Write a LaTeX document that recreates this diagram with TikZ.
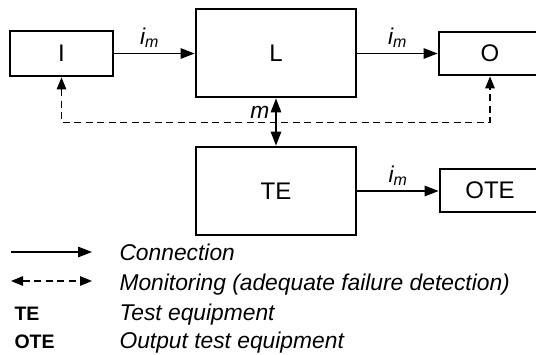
\documentclass[tikz,border=0pt]{standalone}
\usepackage{fontspec}
\setmainfont{Liberation Sans}
\usepackage{tikz}
\usetikzlibrary{arrows.meta,positioning,calc}

\tikzset{
  blk/.style={draw, line width=2.8pt, inner sep=0pt, font=\fontsize{24}{28}\selectfont},
  conn/.style={line width=1.4pt, -{Triangle[length=14pt,width=10.5pt]}},
  monit/.style={line width=1.4pt, dash pattern=on 7pt off 4.5pt,
    {Triangle[length=12pt,width=9.5pt]}-{Triangle[length=12pt,width=9.5pt]}},
  lbl/.style={font=\fontsize{22.8}{26}\selectfont\itshape},
  key/.style={font=\fontsize{19.5}{22}\selectfont\bfseries}
}
\newcommand{\imlabel}{\textit{i}\textsubscript{\textit{m}}}

\begin{document}
\begin{tikzpicture}[x=1pt,y=-1pt]
  \useasboundingbox (0,0) rectangle (536,354);
  % Blocks
  \node[blk, minimum width=103pt, minimum height=45pt] (i) at (61.5,53.5) {I};
  \node[blk, minimum width=160pt, minimum height=88pt] (l) at (276,53) {L};
  \node[blk, minimum width=102pt, minimum height=43pt] (o) at (490,53.5) {O};
  \node[blk, minimum width=160pt, minimum height=88pt] (te) at (276,191) {TE};
  \node[blk, minimum width=100pt, minimum height=43pt] (ote) at (490,190.5) {OTE};
  % Connections
  \draw[conn] (i.east) -- node[lbl, above, inner sep=5pt, xshift=-5pt]{\imlabel} (i.east -| l.west);
  \draw[conn] (l.east |- o.west) -- node[lbl, above, inner sep=5pt]{\imlabel} (o.west);
  \draw[conn] (te.east) -- node[lbl, above, inner sep=5pt]{\imlabel} (te.east -| ote.west);
  \draw[conn, {Triangle[length=14pt,width=10.5pt]}-{Triangle[length=14pt,width=10.5pt]}]
    (l.south) -- node[lbl, pos=0.3, left, inner sep=2pt, xshift=-4pt]{m} (te.north);
  % Monitoring
  \draw[monit] (i.south) -- ++(0,45) -| (o.south);
  % Legend
  \coordinate (c1) at (11,252);
  \coordinate (c2) at (92,252);
  \coordinate (m1) at (11,281);
  \coordinate (m2) at (92,281);
  \draw[conn] (c1) -- (c2);
  \draw[monit] (m1) -- (m2);
  \node[lbl, anchor=base west] (tc) at (116,260) {Connection};
  \node[lbl, anchor=base west] (tm) at (116,290) {Monitoring (adequate failure detection)};
  \node[key, anchor=base west] (kte) at (11,320) {TE};
  \node[lbl, anchor=base west] (tte) at (116,320) {Test equipment};
  \node[key, anchor=base west] (kote) at (11,348) {OTE};
  \node[lbl, anchor=base west] (tote) at (116,348.5) {Output test equipment};
\end{tikzpicture}
\end{document}
